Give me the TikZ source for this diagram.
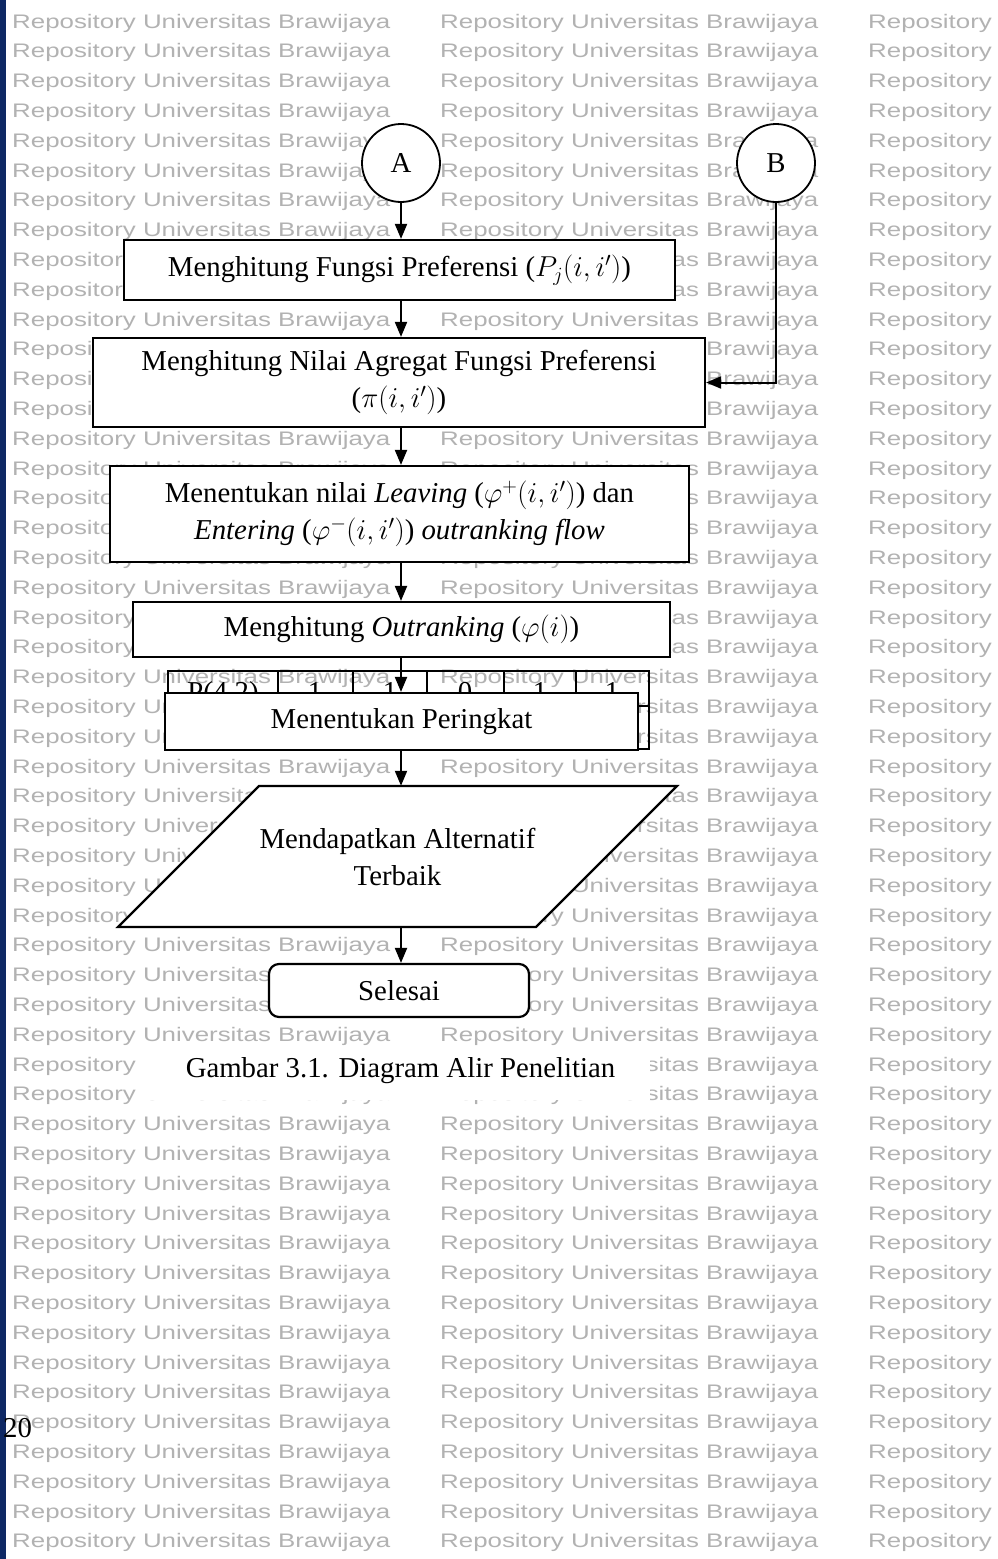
\RequirePackage{fix-cm}
\documentclass[tikz,border=0pt]{standalone}
\usepackage{graphicx}
\usepackage{fontspec}
\setmainfont{Liberation Serif}
\newfontfamily\wmfont{Liberation Sans}
\usetikzlibrary{arrows.meta,calc}

\definecolor{wmgray}{RGB}{178,178,178}
\definecolor{edgenavy}{RGB}{14,40,100}

\begin{document}
\begin{tikzpicture}[x=1pt,y=-1pt,
  every node/.style={font=\fontsize{28.8}{37}\selectfont},
  procbox/.style={draw, line width=2.2pt, fill=white, inner sep=0pt, align=center},
  connector/.style={draw, circle, fill=white, line width=1.8pt, minimum size=78pt, inner sep=0pt},
  plain/.style={inner sep=0pt, align=center},
  arr/.style={line width=2pt, -{Triangle[length=15pt,width=12pt]}},
  tableline/.style={line width=1.8pt},
  wm/.style={anchor=base west, inner sep=0pt, text=wmgray,
    font=\wmfont\fontsize{19.6}{20}\selectfont}]

\useasboundingbox (0,0) rectangle (997,1559);
\fill[white] (0,0) rectangle (997,1559);

% background watermark rows
\begin{scope}
  \clip (0,0) rectangle (997,1559);
  \foreach \k in {0,...,51} {
    \foreach \j in {0,1,2} {
      \node[wm] (wm-\j-\k) at ({12+428*\j},{28+29.8*\k})
        {\scalebox{1.32}[1]{Repository Universitas Brawijaya}};
    }
  }
\end{scope}

% binding edge and page number
\fill[edgenavy] (0,0) rectangle (6,1559);
\node[anchor=base west, inner sep=0pt] (pagenum) at (3,1437) {20};

% connectors A and B
\node[connector] (A) at (401,163) {A};
\node[connector] (B) at (776,163) {B};
\coordinate (ax) at (401,0);

% process boxes
\node[procbox, minimum width=551pt, minimum height=60pt] (b1) at (399.5,270)
  {Menghitung Fungsi Preferensi ($P_j(i,i')$)};
\node[procbox, minimum width=612pt, minimum height=89pt] (b2) at (399,382.5)
  {Menghitung Nilai Agregat Fungsi Preferensi\\($\pi(i,i')$)};
\node[procbox, minimum width=579pt, minimum height=96pt] (b3) at (399.5,514)
  {Menentukan nilai \textit{Leaving} ($\varphi^{+}(i,i')$) dan\\
   \textit{Entering} ($\varphi^{-}(i,i')$) \textit{outranking flow}};
\node[procbox, minimum width=537pt, minimum height=55pt] (b4) at (401.5,629.5)
  {Menghitung \textit{Outranking} ($\varphi(i)$)};

% table fragment lying under the ranking box
\draw[tableline] (168,671) rectangle (649,749);
\draw[tableline] (168,706) -- (649,706);
\foreach \cx in {278,353,427,504,576} {
  \draw[tableline] (\cx,671) -- (\cx,749);
}
\node[anchor=base, inner sep=0pt] (t1) at (223,701) {P(4,2)};
\node[anchor=base, inner sep=0pt] (t2) at (315,701) {1};
\node[anchor=base, inner sep=0pt] (t3) at (390,701) {1};
\node[anchor=base, inner sep=0pt] (t4) at (465,701) {0};
\node[anchor=base, inner sep=0pt] (t5) at (540,701) {1};
\node[anchor=base, inner sep=0pt] (t6) at (612,701) {1};

\node[procbox, minimum width=473pt, minimum height=57pt] (b5) at (401.5,721.5)
  {Menentukan Peringkat};

% output parallelogram
\filldraw[fill=white, line width=2.2pt] (259,786) -- (677,786) -- (536,927) -- (118,927) -- cycle;
\node[plain, minimum width=418pt, minimum height=141pt] (para) at (397.5,856.5)
  {Mendapatkan Alternatif\\Terbaik};

% terminator
\node[procbox, rounded corners=10pt, minimum width=260pt, minimum height=53pt] (stop) at (399,990.5)
  {Selesai};

% flow arrows
\draw[arr] (A.south) -- (A.south |- b1.north);
\draw[arr] (b1.south -| ax) -- (b2.north -| ax);
\draw[arr] (B.south) |- (b2.east);
\draw[arr] (b2.south -| ax) -- (b3.north -| ax);
\draw[arr] (b3.south -| ax) -- (b4.north -| ax);
\draw[arr] (b4.south -| ax) -- (b5.north -| ax);
\draw[arr] (b5.south -| ax) -- (para.north -| ax);
\draw[arr] (para.south -| ax) -- (stop.north -| ax);

% caption on its own white band
\fill[white] (142,1046) rectangle (650,1100);
\node[inner sep=0pt] (caption) at (400.5,1070.3) {Gambar 3.1. Diagram Alir Penelitian};

\end{tikzpicture}
\end{document}
